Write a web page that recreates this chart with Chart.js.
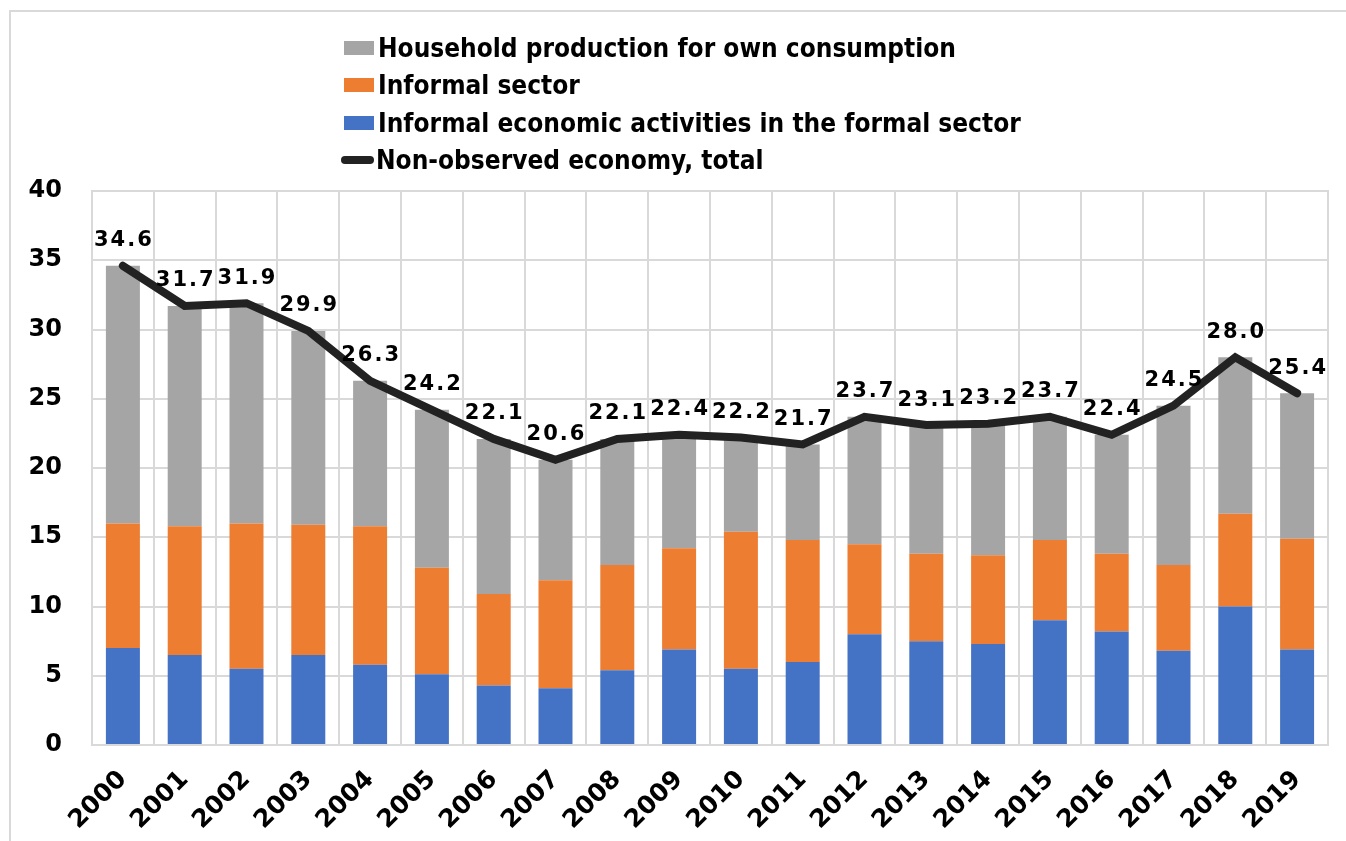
<!DOCTYPE html>
<html>
<head>
<meta charset="utf-8">
<script src="https://cdn.jsdelivr.net/npm/chart.js@4"></script>
<style>
  html, body { margin: 0; background: #fff; overflow: hidden; }
  #wrap { position: relative; width: 1346px; height: 841px; overflow: hidden; }
  #frame { position: absolute; left: 9px; top: 10px; width: 1360px; height: 860px; border-top: 2px solid #d9d9d9; border-left: 2px solid #d9d9d9; }
  #legend { position: absolute; left: 340px; top: 29px; font-family: "DejaVu Sans Condensed", "Liberation Sans Narrow", "DejaVu Sans", sans-serif; font-stretch: condensed; font-weight: bold; font-size: 26px; color: #000; }
  #legend .item { height: 37.5px; display: flex; align-items: center; white-space: nowrap; }
  #legend .box { width: 30px; height: 14px; margin: 0 4px 0 4px; }
  #legend .ln { width: 33px; height: 8px; border-radius: 4px; margin: 0 2px 0 1px; }
</style>
</head>
<body>
<div id="wrap">
  <div id="frame"></div>
  <canvas id="noeChart"></canvas>
  <div id="legend"></div>
</div>

<script>
  const years = ['2000', '2001', '2002', '2003', '2004', '2005', '2006', '2007', '2008', '2009',
                 '2010', '2011', '2012', '2013', '2014', '2015', '2016', '2017', '2018', '2019'];

  // informal economic activities in the formal sector
  const formalInformal = [7.0, 6.5, 5.5, 6.5, 5.8, 5.1, 4.3, 4.1, 5.4, 6.9,
                          5.5, 6.0, 8.0, 7.5, 7.3, 9.0, 8.2, 6.8, 10.0, 6.9];
  // informal sector
  const informalSector = [9.0, 9.3, 10.5, 9.4, 10.0, 7.7, 6.6, 7.8, 7.6, 7.3,
                          9.9, 8.8, 6.5, 6.3, 6.4, 5.8, 5.6, 6.2, 6.7, 8.0];
  // household production for own consumption
  const household = [18.6, 15.9, 15.9, 14.0, 10.5, 11.4, 11.2, 8.7, 9.1, 8.2,
                     6.8, 6.9, 9.2, 9.3, 9.5, 8.9, 8.6, 11.5, 11.3, 10.5];
  // non-observed economy, total
  const total = [34.6, 31.7, 31.9, 29.9, 26.3, 24.2, 22.1, 20.6, 22.1, 22.4,
                 22.2, 21.7, 23.7, 23.1, 23.2, 23.7, 22.4, 24.5, 28.0, 25.4];

  const yTicks = [0, 5, 10, 15, 20, 25, 30, 35, 40];

  const FONT = '"DejaVu Sans", sans-serif';
  const gridColor = '#d9d9d9';

  // value labels above the total line
  const lineLabels = {
    id: 'lineLabels',
    afterDatasetsDraw(chart) {
      const ctx = chart.ctx;
      const meta = chart.getDatasetMeta(3);
      ctx.save();
      ctx.font = 'bold 21px ' + FONT;
      ctx.fillStyle = '#000';
      ctx.textAlign = 'center';
      ctx.textBaseline = 'middle';
      ctx.letterSpacing = '2px';
      meta.data.forEach((pt, i) => {
        ctx.fillText(total[i].toFixed(1), pt.x + 1, pt.y - 25);
      });
      ctx.restore();
    }
  };

  new Chart('noeChart', {
    data: {
      labels: years,
      datasets: [
        { type: 'bar', label: 'Informal economic activities in the formal sector', data: formalInformal,
          backgroundColor: '#4472c4', stack: 'parts', order: 1 },
        { type: 'bar', label: 'Informal sector', data: informalSector,
          backgroundColor: '#ed7d31', stack: 'parts', order: 1 },
        { type: 'bar', label: 'Household production for own consumption', data: household,
          backgroundColor: '#a5a5a5', stack: 'parts', order: 1 },
        { type: 'line', label: 'Non-observed economy, total', data: total,
          borderColor: '#222222', borderWidth: 8, pointRadius: 0, tension: 0,
          borderCapStyle: 'round', borderJoinStyle: 'miter', stack: 'total', order: 0 }
      ]
    },
    options: {
      responsive: true,
      maintainAspectRatio: false,
      animation: false,
      layout: { padding: { top: 191, right: 18, left: 0, bottom: 0 } },
      datasets: { bar: { barPercentage: 0.55, categoryPercentage: 1.0 } },
      scales: {
        x: {
          stacked: true,
          offset: true,
          grid: { color: gridColor, lineWidth: 2, offset: true, drawTicks: false },
          border: { color: gridColor, width: 2 },
          ticks: {
            color: '#000',
            font: { family: FONT, size: 25, weight: 'bold' },
            maxRotation: 45, minRotation: 45,
            padding: 20
          },
          afterFit(scale) { scale.height = 96; }
        },
        y: {
          stacked: true,
          min: 0, max: 40,
          afterBuildTicks(scale) { scale.ticks = yTicks.map(v => ({ value: v })); },
          grid: { color: gridColor, lineWidth: 2, drawTicks: false },
          border: { color: gridColor, width: 2 },
          ticks: {
            color: '#000',
            font: { family: FONT, size: 24, weight: 'bold' },
            padding: 30
          },
          afterFit(scale) { scale.width = 92; }
        }
      },
      plugins: {
        legend: { display: false },
        tooltip: { enabled: false }
      }
    },
    plugins: [lineLabels, {
      id: 'plotFrame',
      afterDraw(chart) {
        const { ctx, chartArea: a } = chart;
        ctx.save();
        ctx.strokeStyle = gridColor;
        ctx.lineWidth = 2;
        ctx.strokeRect(a.left, a.top, a.right - a.left, a.bottom - a.top);
        ctx.restore();
      }
    }]
  });

  // legend listing, in the order of the picture
  const legendItems = [
    { text: 'Household production for own consumption', color: '#a5a5a5', line: false },
    { text: 'Informal sector', color: '#ed7d31', line: false },
    { text: 'Informal economic activities in the formal sector', color: '#4472c4', line: false },
    { text: 'Non-observed economy, total', color: '#222222', line: true }
  ];
  const legendEl = document.getElementById('legend');
  legendItems.forEach(item => {
    const row = document.createElement('div');
    row.className = 'item';
    const mark = document.createElement('span');
    mark.className = item.line ? 'ln' : 'box';
    mark.style.background = item.color;
    row.appendChild(mark);
    row.appendChild(document.createTextNode(item.text));
    legendEl.appendChild(row);
  });
</script>
</body>
</html>
